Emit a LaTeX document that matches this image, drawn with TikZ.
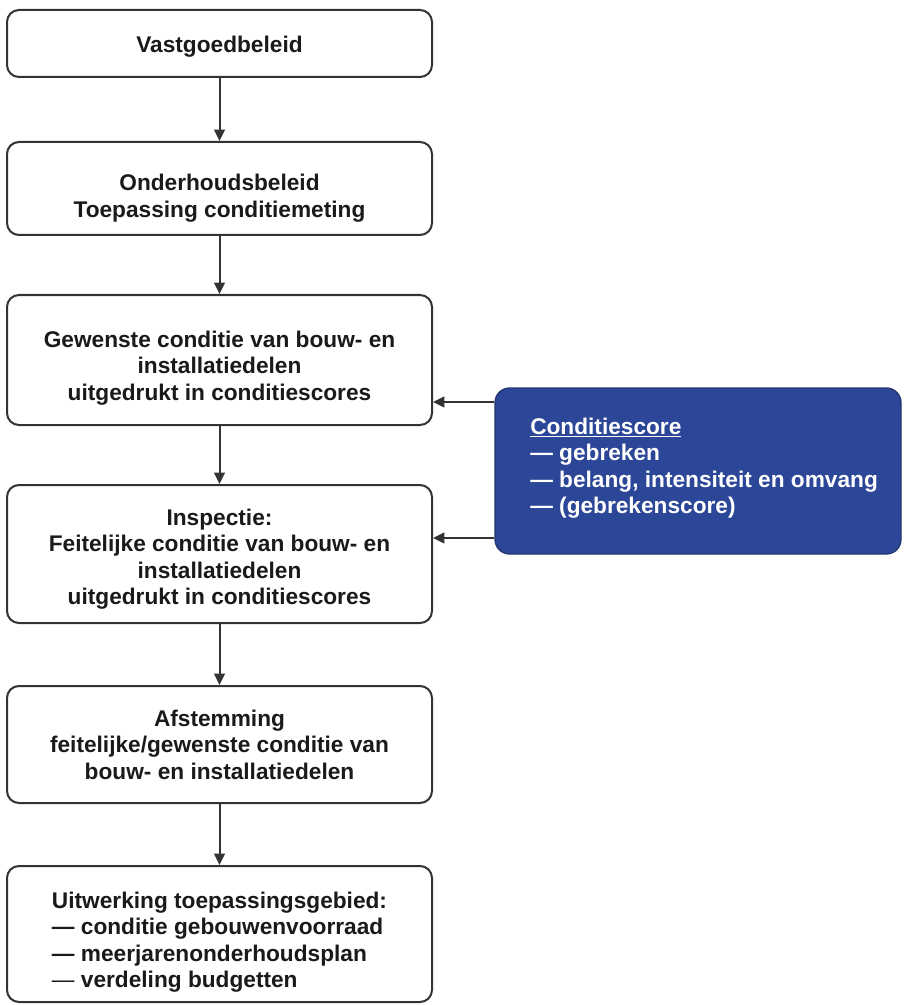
\documentclass[tikz,border=0pt]{standalone}
\usepackage{fontspec}
\setmainfont{Liberation Sans}
\usetikzlibrary{arrows.meta}
\definecolor{linegray}{HTML}{333333}
\definecolor{txt}{HTML}{1A1A1A}
\definecolor{navy}{HTML}{2C4698}
\definecolor{navyedge}{HTML}{22366F}
\newcommand{\tstrut}[1]{\rule{0pt}{#1}}
\begin{document}
\begin{tikzpicture}[x=0.75pt,y=-0.75pt,
  boxfont/.style={font=\bfseries\fontsize{17pt}{19.9pt}\selectfont},
  box/.style={draw=linegray,line width=1.5pt,rounded corners=9pt,fill=white,
    minimum width=318.75pt,align=center,boxfont,text=txt,inner sep=0pt},
  flow/.style={draw=linegray,line width=1.5pt,-{Triangle[length=8.5pt,width=8pt]}}]
\useasboundingbox[fill=white] (0,0) rectangle (903,1005);

\node[box,minimum height=50.25pt] (b1) at (219.5,43.5) {\tstrut{16.5pt}Vastgoedbeleid};
\node[box,minimum height=69.75pt] (b2) at (219.5,188.5) {\tstrut{27pt}Onderhoudsbeleid\\Toepassing conditiemeting};
\node[box,minimum height=97.5pt] (b3) at (219.5,360) {\tstrut{24.4pt}Gewenste conditie van bouw- en\\installatiedelen\\uitgedrukt in conditiescores};
\node[box,minimum height=103.5pt] (b4) at (219.5,554) {\tstrut{19.9pt}Inspectie:\\Feitelijke conditie van bouw- en\\installatiedelen\\uitgedrukt in conditiescores};
\node[box,minimum height=87.75pt] (b5) at (219.5,744.5) {Afstemming\\feitelijke/gewenste conditie van\\bouw- en installatiedelen};
\node[box,minimum height=102pt,align=left] (b6) at (219.5,934) {\tstrut{24.4pt}Uitwerking toepassingsgebied:\\— conditie gebouwenvoorraad\\— meerjarenonderhoudsplan\\{\mdseries —} verdeling budgetten};

\node[draw=navyedge,fill=navy,line width=1pt,rounded corners=11pt,
  minimum width=304.5pt,minimum height=124.5pt,inner sep=0pt] (cs) at (698,471) {};
\node[anchor=west,align=left,text=white,boxfont,inner sep=0pt] (cstext) at (530,468)
  {\underline{Conditiescore}\\— gebreken\\— belang, intensiteit en omvang\\— (gebrekenscore)};

\foreach \a/\b in {b1/b2,b2/b3,b3/b4,b4/b5,b5/b6}
  \draw[flow] (\a) -- (\b);

\coordinate (y1) at (0,402);
\coordinate (y2) at (0,538);
\draw[flow] (cs.west |- y1) -- (b3.east |- y1);
\draw[flow] (cs.west |- y2) -- (b4.east |- y2);
\end{tikzpicture}
\end{document}
